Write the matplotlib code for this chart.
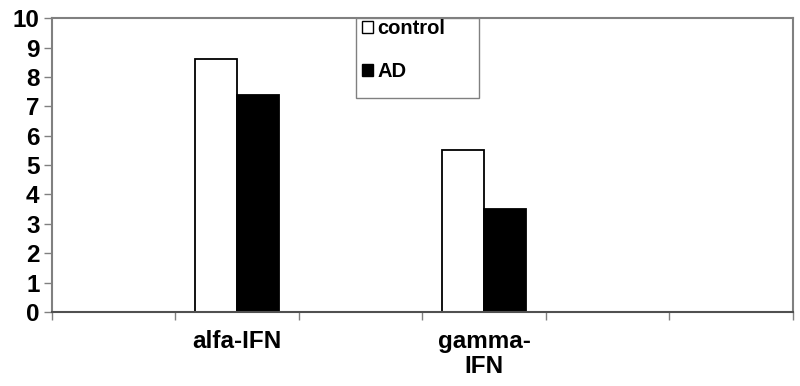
import numpy as np
import matplotlib.pyplot as plt
from matplotlib.patches import Patch, Rectangle

plt.rcParams['font.family'] = ['Liberation Sans', 'DejaVu Sans']
plt.rcParams['font.weight'] = 'bold'

categories = ['', 'alfa-IFN', '', 'gamma-\nIFN', '', '']
control = [np.nan, 8.6, np.nan, 5.5, np.nan, np.nan]
ad = [np.nan, 7.4, np.nan, 3.5, np.nan, np.nan]

fig = plt.figure(figsize=(8, 3.86), dpi=100)
ax = fig.add_axes([0.065, 0.192, 0.926, 0.761])

x = np.arange(len(categories))
w = 0.34
ax.bar(x - w / 2, control, w, color='white', edgecolor='black', linewidth=1.3, label='control')
ax.bar(x + w / 2, ad, w, color='black', edgecolor='black', linewidth=1.3, label='AD')

ax.set_xlim(-0.5, len(categories) - 0.5)
ax.set_ylim(0, 10)
ax.set_yticks(range(0, 11))
ax.tick_params(axis='y', length=6, width=1, color='#808080', pad=3, labelsize=17.5)

# tick marks at category boundaries, labels at centres
ax.set_xticks(np.arange(-0.5, len(categories), 1))
ax.set_xticklabels([])
ax.tick_params(axis='x', which='major', length=6, width=1, color='#808080')
ax.set_xticks(x, minor=True)
ax.set_xticklabels(categories, minor=True, fontsize=17.5, linespacing=1.1)
ax.tick_params(axis='x', which='minor', length=0, pad=13)

for s in ax.spines.values():
    s.set_color('#808080')
    s.set_linewidth(1.5)
ax.spines['bottom'].set_color('#505050')

# legend box
ax.add_patch(Rectangle((0.41, 0.728), 0.166, 0.272, transform=ax.transAxes,
                       facecolor='white', edgecolor='#808080', linewidth=1, zorder=3))
handles = [Patch(facecolor='white', edgecolor='black', label='control'),
           Patch(facecolor='black', edgecolor='black', label='AD')]
leg = ax.legend(handles=handles, loc='upper left', bbox_to_anchor=(0.408, 1.025),
                frameon=False, fontsize=14.5, handlelength=0.55, handleheight=0.55,
                handletextpad=0.2, labelspacing=1.2, borderaxespad=0.0)
leg.set_zorder(4)

fig.savefig('out.png')
